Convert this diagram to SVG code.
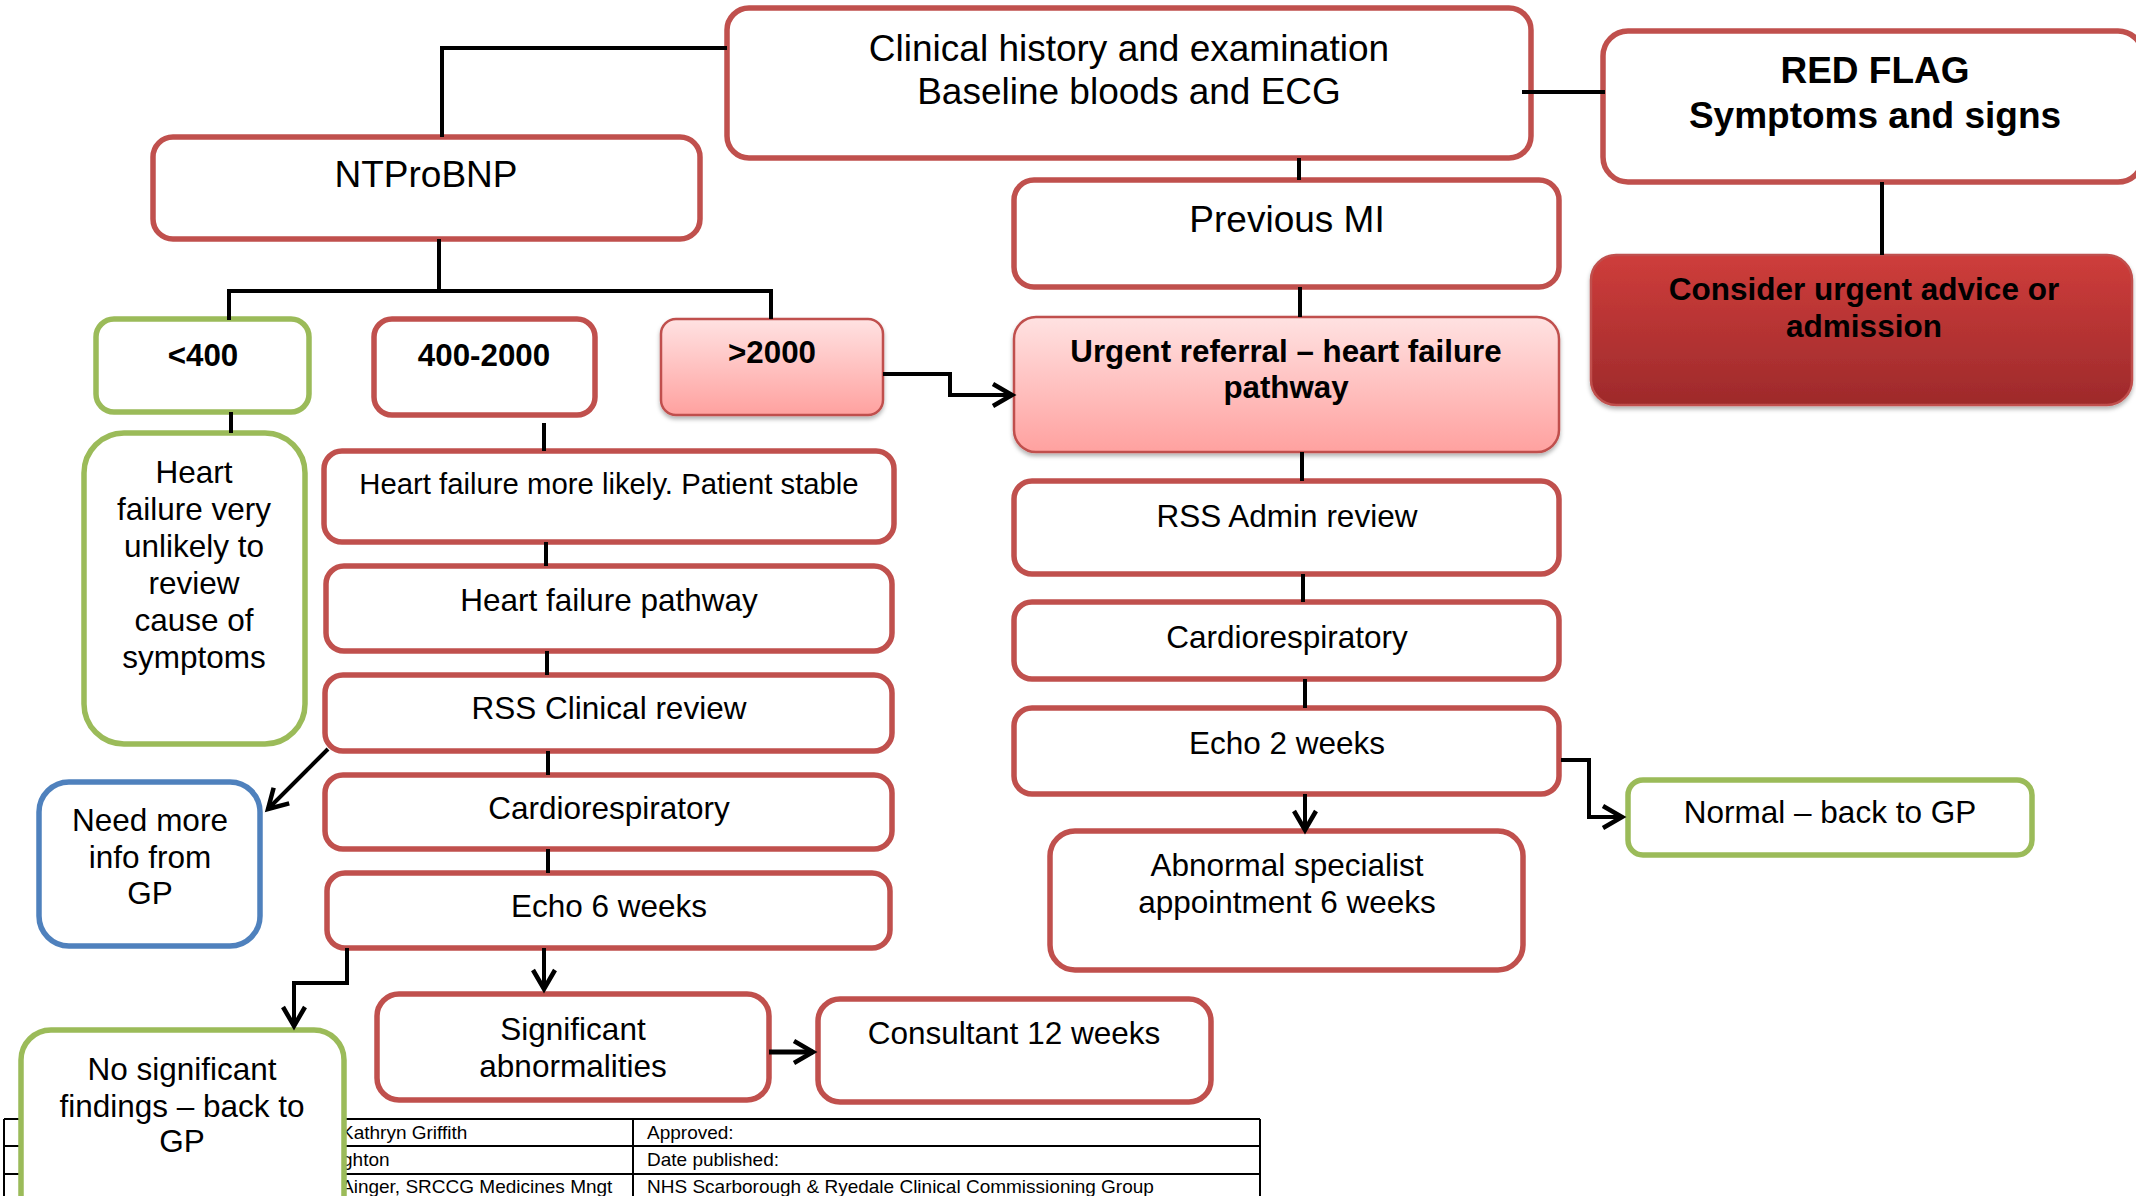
<svg xmlns="http://www.w3.org/2000/svg" width="2136" height="1196" viewBox="0 0 2136 1196">
<defs>
<style>
.box{fill:#fff;stroke:#C0504D;stroke-width:5.5}
.grn{fill:#fff;stroke:#9BBB59;stroke-width:5.5}
.blu{fill:#fff;stroke:#4F81BD;stroke-width:5.5}
.pnk{fill:url(#pinkGrad);stroke:#C0504D;stroke-width:2.5;filter:url(#shadow)}
.drk{fill:url(#redGrad);stroke:#C0504D;stroke-width:2.5;filter:url(#shadow)}
text{font-family:"Liberation Sans",Arial,sans-serif;fill:#000;text-anchor:middle}
.t{font-size:31.5px}
.tl{font-size:37px}
.ts{font-size:29.3px}
.b{font-weight:bold;font-size:31.3px}
.bl{font-weight:bold;font-size:37px}
.tab{font-size:19px;text-anchor:start}
.conn path{fill:none;stroke:#000;stroke-width:4}
.tbl line{stroke:#000;stroke-width:2}
</style>
<linearGradient id="pinkGrad" x1="0" y1="0" x2="0" y2="1">
<stop offset="0" stop-color="#FFE2E2"/>
<stop offset="1" stop-color="#FFA19F"/>
</linearGradient>
<linearGradient id="redGrad" x1="0" y1="0" x2="0" y2="1">
<stop offset="0" stop-color="#CE3D3B"/>
<stop offset="1" stop-color="#9E2A2B"/>
</linearGradient>
<filter id="shadow" x="-5%" y="-5%" width="110%" height="120%">
<feDropShadow dx="0" dy="3" stdDeviation="2" flood-color="#000" flood-opacity="0.3"/>
</filter>
<marker id="arr" markerUnits="userSpaceOnUse" markerWidth="40" markerHeight="40" viewBox="-30 -20 40 40" refX="0" refY="0" orient="auto" overflow="visible">
<path d="M-19,-11 L0,0 L-19,11" fill="none" stroke="#000" stroke-width="4.5" stroke-linejoin="miter"/>
</marker>
</defs>

<g id="footer-table" class="tbl">
<line x1="4" y1="1119" x2="1260" y2="1119"/>
<line x1="4" y1="1146" x2="1260" y2="1146"/>
<line x1="4" y1="1174" x2="1260" y2="1174"/>
<line x1="4" y1="1119" x2="4" y2="1196"/>
<line x1="633" y1="1119" x2="633" y2="1196"/>
<line x1="1260" y1="1119" x2="1260" y2="1196"/>
<text class="tab" x="341" y="1139">Kathryn Griffith</text>
<text class="tab" x="342" y="1166">ghton</text>
<text class="tab" x="341" y="1193">Ainger, SRCCG Medicines Mngt</text>
<text class="tab" x="647" y="1139">Approved:</text>
<text class="tab" x="647" y="1166">Date published:</text>
<text class="tab" x="647" y="1193">NHS Scarborough &amp; Ryedale Clinical Commissioning Group</text>
</g>

<g id="clinical"><rect class="box" x="727" y="8" width="804" height="150" rx="22"/>
<text class="tl" x="1129" y="61">Clinical history and examination</text>
<text class="tl" x="1129" y="104">Baseline bloods and ECG</text></g>

<g id="ntprobnp"><rect class="box" x="153" y="137" width="547" height="102" rx="20"/>
<text class="tl" x="426" y="187">NTProBNP</text></g>

<g id="lt400"><rect class="grn" x="96" y="319" width="213" height="93" rx="18"/>
<text class="b" x="203" y="366">&lt;400</text></g>

<g id="r400-2000"><rect class="box" x="374" y="319" width="221" height="96" rx="18"/>
<text class="b" x="484" y="366">400-2000</text></g>

<g id="gt2000"><rect class="pnk" x="661" y="319" width="222" height="96" rx="15"/>
<text class="b" x="772" y="363">&gt;2000</text></g>

<g id="previous-mi"><rect class="box" x="1014" y="180" width="545" height="107" rx="20"/>
<text class="tl" x="1287" y="232">Previous MI</text></g>

<g id="urgent-referral"><rect class="pnk" x="1014" y="317" width="545" height="135" rx="22"/>
<text class="b" x="1286" y="362">Urgent referral – heart failure</text>
<text class="b" x="1286" y="398">pathway</text></g>

<g id="red-flag"><rect class="box" x="1603" y="31" width="540" height="151" rx="25"/>
<text class="bl" x="1875" y="83">RED FLAG</text>
<text class="bl" x="1875" y="128">Symptoms and signs</text></g>

<g id="consider-urgent"><rect class="drk" x="1591" y="255" width="541" height="150" rx="25"/>
<text class="b" x="1864" y="300" style="font-size:31.5px">Consider urgent advice or</text>
<text class="b" x="1864" y="337" style="font-size:31.5px">admission</text></g>

<g id="hf-unlikely"><rect class="grn" x="84" y="433" width="221" height="311" rx="40"/>
<text class="t" x="194" y="483">Heart</text>
<text class="t" x="194" y="520">failure very</text>
<text class="t" x="194" y="557">unlikely to</text>
<text class="t" x="194" y="594">review</text>
<text class="t" x="194" y="631">cause of</text>
<text class="t" x="194" y="668">symptoms</text></g>

<g id="need-more-info"><rect class="blu" x="39" y="782" width="221" height="164" rx="30"/>
<text class="t" x="150" y="831">Need more</text>
<text class="t" x="150" y="868">info from</text>
<text class="t" x="150" y="904">GP</text></g>

<g id="hf-more-likely"><rect class="box" x="324" y="451" width="570" height="91" rx="18"/>
<text class="ts" x="609" y="494">Heart failure more likely. Patient stable</text></g>

<g id="hf-pathway"><rect class="box" x="326" y="566" width="566" height="85" rx="18"/>
<text class="t" x="609" y="611">Heart failure pathway</text></g>

<g id="rss-clinical"><rect class="box" x="325" y="675" width="567" height="76" rx="18"/>
<text class="t" x="609" y="719">RSS Clinical review</text></g>

<g id="cardio-left"><rect class="box" x="325" y="775" width="567" height="74" rx="18"/>
<text class="t" x="609" y="819">Cardiorespiratory</text></g>

<g id="echo-6"><rect class="box" x="327" y="873" width="563" height="75" rx="18"/>
<text class="t" x="609" y="917">Echo 6 weeks</text></g>

<g id="no-significant"><rect class="grn" x="21" y="1030" width="323" height="200" rx="30"/>
<text class="t" x="182" y="1080">No significant</text>
<text class="t" x="182" y="1117">findings – back to</text>
<text class="t" x="182" y="1152">GP</text></g>

<g id="significant"><rect class="box" x="377" y="994" width="392" height="106" rx="22"/>
<text class="t" x="573" y="1040">Significant</text>
<text class="t" x="573" y="1077">abnormalities</text></g>

<g id="consultant"><rect class="box" x="818" y="999" width="393" height="103" rx="22"/>
<text class="t" x="1014" y="1044">Consultant 12 weeks</text></g>

<g id="rss-admin"><rect class="box" x="1014" y="481" width="545" height="93" rx="18"/>
<text class="t" x="1287" y="527">RSS Admin review</text></g>

<g id="cardio-right"><rect class="box" x="1014" y="602" width="545" height="77" rx="18"/>
<text class="t" x="1287" y="648">Cardiorespiratory</text></g>

<g id="echo-2"><rect class="box" x="1014" y="708" width="545" height="86" rx="18"/>
<text class="t" x="1287" y="754">Echo 2 weeks</text></g>

<g id="abnormal"><rect class="box" x="1050" y="831" width="473" height="139" rx="25"/>
<text class="t" x="1287" y="876">Abnormal specialist</text>
<text class="t" x="1287" y="913">appointment 6 weeks</text></g>

<g id="normal"><rect class="grn" x="1628" y="780" width="404" height="75" rx="15"/>
<text class="t" x="1830" y="823">Normal – back to GP</text></g>

<g id="connectors" class="conn">
<path d="M727,48 H442 V137"/>
<path d="M439,239 V291"/>
<path d="M229,320 V291 H771 V319"/>
<path d="M231,412 V433"/>
<path d="M544,423 V451"/>
<path d="M546,542 V566"/>
<path d="M547,651 V675"/>
<path d="M548,751 V775"/>
<path d="M548,849 V873"/>
<path d="M347,948 V983 H294 V1026" marker-end="url(#arr)"/>
<path d="M544,948 V989" marker-end="url(#arr)"/>
<path d="M769,1052 H813" marker-end="url(#arr)" style="stroke-width:5"/>
<path d="M328,749 L268,809" marker-end="url(#arr)"/>
<path d="M883,374 H950 V395 H1012" marker-end="url(#arr)"/>
<path d="M1299,158 V180"/>
<path d="M1300,287 V317"/>
<path d="M1522,92 H1605"/>
<path d="M1882,182 V255"/>
<path d="M1302,452 V481"/>
<path d="M1303,574 V602"/>
<path d="M1305,679 V708"/>
<path d="M1305,794 V830" marker-end="url(#arr)"/>
<path d="M1561,760 H1589 V817 H1622" marker-end="url(#arr)"/>
</g>
</svg>
